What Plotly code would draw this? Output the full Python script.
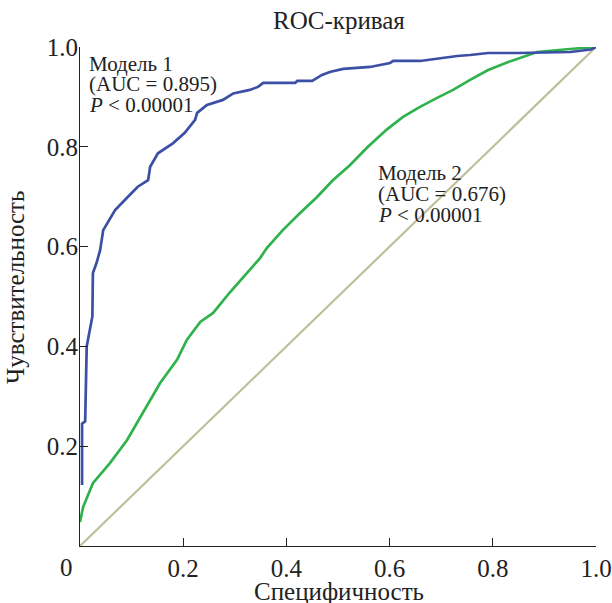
import plotly.graph_objects as go

# Model 1 ROC curve (blue)
m1_x = [0.004, 0.004, 0.010, 0.013, 0.024, 0.025, 0.032, 0.039, 0.045, 0.068, 0.093, 0.112,
        0.132, 0.136, 0.151, 0.180, 0.203, 0.223, 0.227, 0.246, 0.277, 0.297, 0.329, 0.345,
        0.355, 0.417, 0.421, 0.450, 0.469, 0.484, 0.510, 0.548, 0.562, 0.601, 0.607, 0.659,
        0.698, 0.731, 0.756, 0.791, 0.850, 0.950, 0.990, 1.000]
m1_y = [0.122, 0.245, 0.250, 0.400, 0.460, 0.547, 0.567, 0.593, 0.633, 0.673, 0.700, 0.720,
        0.733, 0.760, 0.787, 0.807, 0.828, 0.854, 0.868, 0.884, 0.894, 0.907, 0.914, 0.920,
        0.928, 0.928, 0.932, 0.932, 0.944, 0.950, 0.956, 0.958, 0.960, 0.968, 0.972, 0.972,
        0.978, 0.982, 0.984, 0.988, 0.988, 0.990, 0.995, 1.000]

# Model 2 ROC curve (green)
m2_x = [0.0, 0.006, 0.025, 0.058, 0.091, 0.122, 0.155, 0.188, 0.207, 0.233, 0.258, 0.291,
        0.323, 0.349, 0.362, 0.393, 0.426, 0.459, 0.490, 0.523, 0.558, 0.595, 0.626, 0.659,
        0.692, 0.723, 0.756, 0.791, 0.830, 0.886, 0.950, 1.0]
m2_y = [0.048, 0.078, 0.126, 0.166, 0.212, 0.268, 0.326, 0.373, 0.413, 0.449, 0.467, 0.509,
        0.547, 0.577, 0.597, 0.633, 0.667, 0.699, 0.733, 0.763, 0.800, 0.835, 0.860, 0.880,
        0.898, 0.914, 0.934, 0.954, 0.970, 0.990, 0.996, 1.0]

# Reference diagonal
ref_x = [0.0, 1.0]
ref_y = [0.0, 1.0]

tick_vals = [0.2, 0.4, 0.6, 0.8, 1.0]
tick_text = ["0.2", "0.4", "0.6", "0.8", "1.0"]

FONT = "Liberation Serif"
fig = go.Figure()
fig.add_trace(go.Scatter(x=ref_x, y=ref_y, mode="lines",
                         line=dict(color="#bfc09a", width=2.2), showlegend=False))
fig.add_trace(go.Scatter(x=m2_x, y=m2_y, mode="lines",
                         line=dict(color="#2fb24c", width=2.7), showlegend=False))
fig.add_trace(go.Scatter(x=m1_x, y=m1_y, mode="lines",
                         line=dict(color="#3b4fa5", width=2.7), showlegend=False))

axis_common = dict(range=[0, 1], showgrid=False, zeroline=False, showline=True,
                   linecolor="#222", linewidth=1, ticks="inside", ticklen=8,
                   tickcolor="#222", tickvals=tick_vals, ticktext=tick_text,
                   automargin=False,
                   tickfont=dict(family=FONT, size=25, color="#222"))
fig.update_xaxes(**axis_common, ticklabelstandoff=0)
fig.update_yaxes(**axis_common, ticklabelstandoff=-4)

def pxx(px):
    return (px - 80) / 516.0

def pxy(py):
    return (546 - py) / 499.0

anns = []
def ann(text, x, y, size=21, xanchor="left", angle=0):
    anns.append(dict(text=text, x=x, y=y, xref="paper", yref="paper",
                     xanchor=xanchor, yanchor="middle", showarrow=False,
                     textangle=angle, font=dict(family=FONT, size=size, color="#222")))

ann("Модель 1", pxx(87), pxy(64))
ann("(AUC = 0.895)", pxx(87), pxy(84))
ann("<i>P</i> < 0.00001", pxx(87), pxy(105))
ann("Модель 2", pxx(376), pxy(173))
ann("(AUC = 0.676)", pxx(376), pxy(194))
ann("<i>P</i> < 0.00001", pxx(376), pxy(215))
ann("ROC-кривая", pxx(339), pxy(20), size=25, xanchor="center")
ann("Специфичность", pxx(339), pxy(591), size=25, xanchor="center")
ann("Чувствительность", pxx(15), pxy(288), size=25, xanchor="center", angle=-90)
ann("0", pxx(66), pxy(567), size=25, xanchor="center")

fig.update_layout(width=612, height=603, margin=dict(l=80, r=16, t=47, b=57),
                  paper_bgcolor="white", plot_bgcolor="white", annotations=anns,
                  showlegend=False)
fig.write_html("out.html", config={"displayModeBar": False},
               post_script="document.body.style.margin='0';document.body.style.overflow='hidden';")
